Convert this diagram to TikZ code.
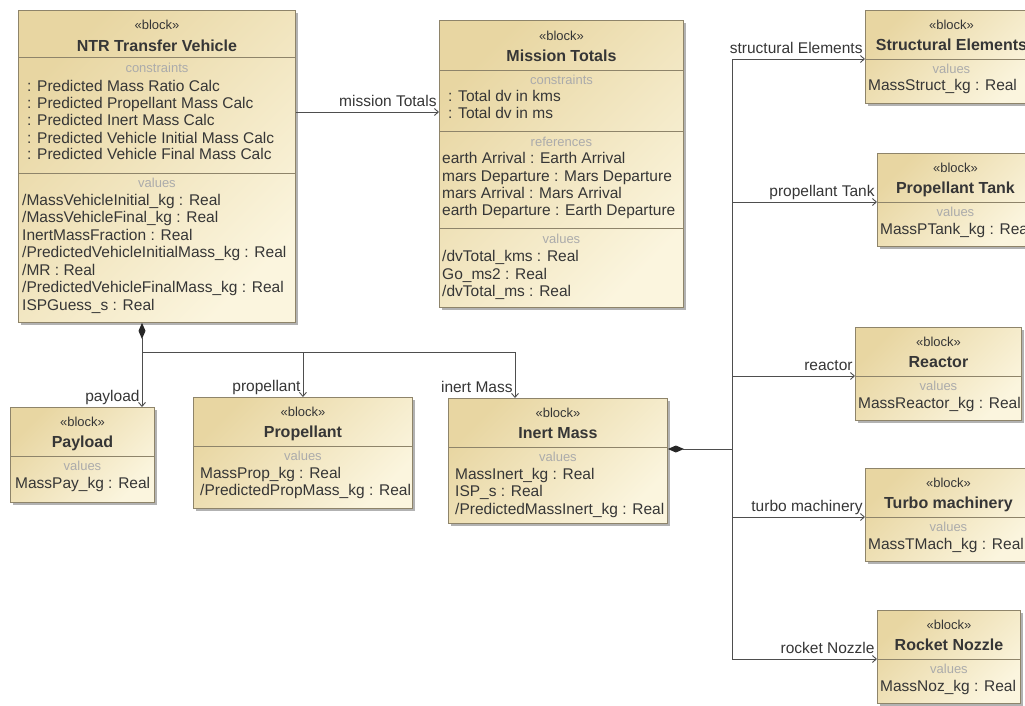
\documentclass[tikz,border=0pt]{standalone}
\usepackage{fontspec}
\setmainfont{Liberation Sans}
\usetikzlibrary{arrows.meta, calc, shadows}
\definecolor{blockline}{HTML}{8E846A}
\definecolor{blockdark}{HTML}{E8D6A2}
\definecolor{blocklight}{HTML}{FBF5DE}
\definecolor{txt}{HTML}{363636}
\definecolor{faint}{HTML}{ABABAB}
\definecolor{wire}{HTML}{4E4E4E}

\begin{document}
\begin{tikzpicture}[x=1pt, y=-1pt,
    block/.style={draw=blockline, line width=.9pt, anchor=north west, inner sep=0pt,
        top color=blockdark, bottom color=blocklight, shading angle=45,
        drop shadow={shadow xshift=2.5pt, shadow yshift=-2.5pt, fill=black, opacity=.3}},
    stereo/.style={inner sep=0pt, text=txt, text height=9.5pt, text depth=3pt, font=\fontsize{13}{14}\selectfont},
    title/.style={inner sep=0pt, text=txt, text height=12pt, text depth=3.5pt, font=\fontsize{16}{17}\selectfont\bfseries},
    heading/.style={inner sep=0pt, text=faint, text height=9.5pt, text depth=3pt, font=\fontsize{13}{14}\selectfont},
    attr/.style={anchor=west, inner sep=0pt, text=txt, text height=11.5pt, text depth=3.5pt, font=\fontsize{15.5}{17}\selectfont},
    sep/.style={draw=blockline, line width=.9pt},
    assoc/.style={draw=wire, line width=.9pt, -{Straight Barb[length=4pt, width=7pt]}},
    comp/.style={draw=wire, line width=.9pt, {Diamond[length=16pt, width=7pt, color=black!85]}-},
    role/.style={pos=1, anchor=south east, inner sep=2pt, text=txt, text height=11.5pt, text depth=3.5pt, font=\fontsize{15.5}{17}\selectfont}]

    \useasboundingbox (0,0) rectangle (1025,706);
    \fill[white] (0,0) rectangle (1025,706);
    \clip (0,0) rectangle (1025,706);

    % NTR Transfer Vehicle
    \node[block, minimum width=277pt, minimum height=312pt] (ntr) at (18,10) {};
    \node[stereo] at ($(ntr.north)+(0,16)$) {«block»};
    \node[title] at ($(ntr.north)+(0,37)$) {NTR Transfer Vehicle};
    \draw[sep] ($(ntr.north west)+(0,47)$) -- ($(ntr.north east)+(0,47)$);
    \node[heading] at ($(ntr.north)+(0,59)$) {constraints};
    \foreach \t [count=\i] in {: Predicted Mass Ratio Calc, : Predicted Propellant Mass Calc,
        : Predicted Inert Mass Calc, : Predicted Vehicle Initial Mass Calc, : Predicted Vehicle Final Mass Calc}
        \node[attr] at ($(ntr.north west)+(9,61+17*\i)$) {\t};
    \draw[sep] ($(ntr.north west)+(0,163)$) -- ($(ntr.north east)+(0,163)$);
    \node[heading] at ($(ntr.north)+(0,174)$) {values};
    \foreach \t [count=\i] in {/MassVehicleInitial\_kg : Real, /MassVehicleFinal\_kg : Real,
        InertMassFraction : Real, /PredictedVehicleInitialMass\_kg : Real, /MR : Real,
        /PredictedVehicleFinalMass\_kg : Real, ISPGuess\_s : Real}
        \node[attr] at ($(ntr.north west)+(4,173.5+17.5*\i)$) {\t};

    % Mission Totals
    \node[block, minimum width=244pt, minimum height=287pt] (mt) at (439,20) {};
    \node[stereo] at ($(mt.north)+(0,17)$) {«block»};
    \node[title] at ($(mt.north)+(0,37)$) {Mission Totals};
    \draw[sep] ($(mt.north west)+(0,50)$) -- ($(mt.north east)+(0,50)$);
    \node[heading] at ($(mt.north)+(0,61)$) {constraints};
    \foreach \t [count=\i] in {: Total dv in kms, : Total dv in ms}
        \node[attr] at ($(mt.north west)+(9,61+17*\i)$) {\t};
    \draw[sep] ($(mt.north west)+(0,111)$) -- ($(mt.north east)+(0,111)$);
    \node[heading] at ($(mt.north)+(0,123)$) {references};
    \foreach \t [count=\i] in {earth Arrival : Earth Arrival, mars Departure : Mars Departure,
        mars Arrival : Mars Arrival, earth Departure : Earth Departure}
        \node[attr] at ($(mt.north west)+(3,123+17*\i)$) {\t};
    \draw[sep] ($(mt.north west)+(0,208)$) -- ($(mt.north east)+(0,208)$);
    \node[heading] at ($(mt.north)+(0,220)$) {values};
    \foreach \t [count=\i] in {/dvTotal\_kms : Real, Go\_ms2 : Real, /dvTotal\_ms : Real}
        \node[attr] at ($(mt.north west)+(3,220+17.5*\i)$) {\t};

    % parts of the vehicle
    \node[block, minimum width=144pt, minimum height=95pt] (payload) at (10,407) {};
    \node[block, minimum width=219pt, minimum height=111pt] (prop) at (193,397) {};
    \node[block, minimum width=219pt, minimum height=125pt] (inert) at (448,398) {};
    \foreach \n/\t in {payload/Payload, prop/Propellant, inert/Inert Mass} {
        \node[stereo] at ($(\n.north)+(0,16)$) {«block»};
        \node[title] at ($(\n.north)+(0,36)$) {\t};
        \draw[sep] ($(\n.north west)+(0,49)$) -- ($(\n.north east)+(0,49)$);
        \node[heading] at ($(\n.north)+(0,60)$) {values};
    }
    \node[attr] at ($(payload.north west)+(5,77)$) {MassPay\_kg : Real};
    \foreach \t [count=\i] in {MassProp\_kg : Real, /PredictedPropMass\_kg : Real}
        \node[attr] at ($(prop.north west)+(7,59.5+17.5*\i)$) {\t};
    \foreach \t [count=\i] in {MassInert\_kg : Real, ISP\_s : Real, /PredictedMassInert\_kg : Real}
        \node[attr] at ($(inert.north west)+(7,59.5+17.5*\i)$) {\t};

    % parts of the inert mass
    \foreach \n/\x/\y/\w/\t/\a in {
        se/865/10/172/Structural Elements/MassStruct\_kg : Real,
        pt/877/153/156/Propellant Tank/MassPTank\_kg : Real,
        reactor/855/327/166/Reactor/MassReactor\_kg : Real,
        turbo/865/468/166/Turbo machinery/MassTMach\_kg : Real,
        nozzle/877/610/143/Rocket Nozzle/MassNoz\_kg : Real} {
        \node[block, minimum width=\w pt, minimum height=93pt] (\n) at (\x,\y) {};
        \node[stereo] at ($(\n.north)+(0,16)$) {«block»};
        \node[title] at ($(\n.north)+(0,36)$) {\t};
        \draw[sep] ($(\n.north west)+(0,49)$) -- ($(\n.north east)+(0,49)$);
        \node[heading] at ($(\n.north)+(0,60)$) {values};
        \node[attr] at ($(\n.north west)+(3,77)$) {\a};
    }

    % connectors
    \coordinate (mtin) at ($(mt.north west)+(0,92)$);
    \draw[assoc] (ntr.east |- mtin) -- node[role] {mission Totals} (mtin);

    \coordinate (j1) at (142,352);
    \draw[comp] (j1 |- ntr.south) -- (j1);
    \draw[assoc] (j1) -- node[role] {payload} (j1 |- payload.north);
    \draw[assoc] (j1) -| node[role] {propellant} (prop.north);
    \draw[assoc] (j1) -| node[role] {inert Mass} ($(inert.north west)+(67,0)$);

    \coordinate (bus) at (732,449);
    \draw[comp] (inert.east |- bus) -- (bus);
    \foreach \n/\r in {se/structural Elements, pt/propellant Tank, reactor/reactor,
        turbo/turbo machinery, nozzle/rocket Nozzle}
        \draw[assoc] (bus) |- node[role] {\r} ($(\n.north west)+(0,49)$);
\end{tikzpicture}
\end{document}
